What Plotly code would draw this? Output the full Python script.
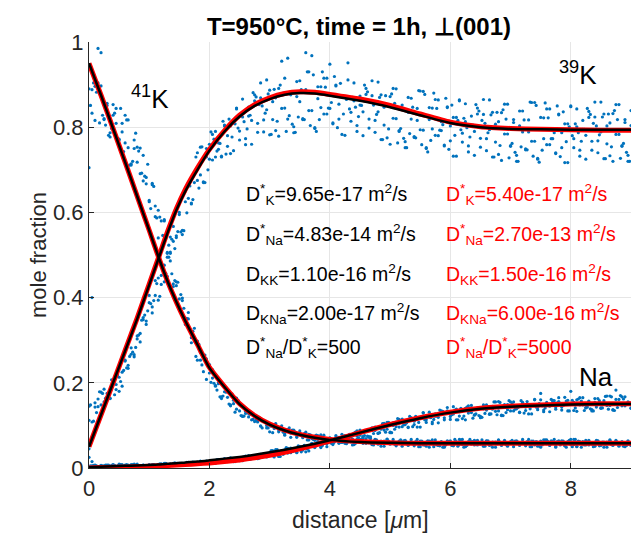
import plotly.graph_objects as go

# ---------------- measured profiles (mole fraction x 1000) ----------------
distance = [
    0.0, 0.05, 0.1, 0.15, 0.2, 0.25, 0.3, 0.35, 0.4, 0.45, 0.5, 0.55, 0.6, 0.65, 0.7, 0.75, 0.8, 0.85, 0.9, 0.95,
    1.0, 1.05, 1.1, 1.15, 1.2, 1.25, 1.3, 1.35, 1.4, 1.45, 1.5, 1.55, 1.6, 1.65, 1.7, 1.75, 1.8, 1.85, 1.9, 1.95,
    2.0, 2.05, 2.1, 2.15, 2.2, 2.25, 2.3, 2.35, 2.4, 2.45, 2.5, 2.55, 2.6, 2.65, 2.7, 2.75, 2.8, 2.85, 2.9, 2.95,
    3.0, 3.05, 3.1, 3.15, 3.2, 3.25, 3.3, 3.35, 3.4, 3.45, 3.5, 3.55, 3.6, 3.65, 3.7, 3.75, 3.8, 3.85, 3.9, 3.95,
    4.0, 4.05, 4.1, 4.15, 4.2, 4.25, 4.3, 4.35, 4.4, 4.45, 4.5, 4.55, 4.6, 4.65, 4.7, 4.75, 4.8, 4.85, 4.9, 4.95,
    5.0, 5.05, 5.1, 5.15, 5.2, 5.25, 5.3, 5.35, 5.4, 5.45, 5.5, 5.55, 5.6, 5.65, 5.7, 5.75, 5.8, 5.85, 5.9, 5.95,
    6.0, 6.05, 6.1, 6.15, 6.2, 6.25, 6.3, 6.35, 6.4, 6.45, 6.5, 6.55, 6.6, 6.65, 6.7, 6.75, 6.8, 6.85, 6.9, 6.95,
    7.0, 7.05, 7.1, 7.15, 7.2, 7.25, 7.3, 7.35, 7.4, 7.45, 7.5, 7.55, 7.6, 7.65, 7.7, 7.75, 7.8, 7.85, 7.9, 7.95,
    8.0, 8.05, 8.1, 8.15, 8.2, 8.25, 8.3, 8.35, 8.4, 8.45, 8.5, 8.55, 8.6, 8.65, 8.7, 8.75, 8.8, 8.85, 8.9, 8.95,
    9.0,
]
distance_mid = [
    0.025, 0.075, 0.125, 0.175, 0.225, 0.275, 0.325, 0.375, 0.425, 0.475, 0.525, 0.575, 0.625, 0.675, 0.725, 0.775, 0.825, 0.875, 0.925, 0.975,
    1.025, 1.075, 1.125, 1.175, 1.225, 1.275, 1.325, 1.375, 1.425, 1.475, 1.525, 1.575, 1.625, 1.675, 1.725, 1.775, 1.825, 1.875, 1.925, 1.975,
    2.025, 2.075, 2.125, 2.175, 2.225, 2.275, 2.325, 2.375, 2.425, 2.475, 2.525, 2.575, 2.625, 2.675, 2.725, 2.775, 2.825, 2.875, 2.925, 2.975,
    3.025, 3.075, 3.125, 3.175, 3.225, 3.275, 3.325, 3.375, 3.425, 3.475, 3.525, 3.575, 3.625, 3.675, 3.725, 3.775, 3.825, 3.875, 3.925, 3.975,
    4.025, 4.075, 4.125, 4.175, 4.225, 4.275, 4.325, 4.375, 4.425, 4.475, 4.525, 4.575, 4.625, 4.675, 4.725, 4.775, 4.825, 4.875, 4.925, 4.975,
    5.025, 5.075, 5.125, 5.175, 5.225, 5.275, 5.325, 5.375, 5.425, 5.475, 5.525, 5.575, 5.625, 5.675, 5.725, 5.775, 5.825, 5.875, 5.925, 5.975,
    6.025, 6.075, 6.125, 6.175, 6.225, 6.275, 6.325, 6.375, 6.425, 6.475, 6.525, 6.575, 6.625, 6.675, 6.725, 6.775, 6.825, 6.875, 6.925, 6.975,
    7.025, 7.075, 7.125, 7.175, 7.225, 7.275, 7.325, 7.375, 7.425, 7.475, 7.525, 7.575, 7.625, 7.675, 7.725, 7.775, 7.825, 7.875, 7.925, 7.975,
    8.025, 8.075, 8.125, 8.175, 8.225, 8.275, 8.325, 8.375, 8.425, 8.475, 8.525, 8.575, 8.625, 8.675, 8.725, 8.775, 8.825, 8.875, 8.925, 8.975,
]

k41_scan_a = [
    890, 833, 896, 985, 897, 820, 851, 777, 853, 809, 770, 809, 763, 817, 711, 750, 753, 691, 734, 667,
    625, 668, 615, 540, 580, 583, 495, 486, 426, 437, 397, 399, 337, 350, 306, 328, 253, 271, 226, 256,
    223, 231, 192, 198, 163, 189, 166, 146, 159, 138, 150, 121, 128, 128, 113, 124, 108, 98, 110, 100,
    85, 99, 104, 85, 91, 77, 90, 82, 89, 72, 82, 74, 84, 66, 75, 65, 76, 69, 77, 64,
    70, 58, 72, 66, 60, 69, 61, 73, 55, 64, 66, 58, 69, 59, 55, 66, 60, 51, 63, 68,
    56, 62, 52, 63, 58, 65, 53, 62, 55, 67, 50, 60, 51, 63, 57, 66, 54, 61, 49, 64,
    58, 53, 62, 55, 67, 50, 59, 62, 54, 65, 56, 52, 63, 58, 49, 61, 66, 53, 60, 51,
    62, 57, 64, 53, 62, 55, 67, 50, 54, 61, 49, 66, 57, 53, 62, 51, 60, 64, 52, 58,
    67, 55, 51, 62, 56, 65, 54, 59, 51, 64, 53, 61, 49, 65, 56, 65, 53, 59, 50, 62,
    55,
]
k41_scan_b = [
    705, 888, 816, 904, 975, 818, 856, 787, 828, 844, 772, 789, 828, 752, 714, 770, 718, 751, 674, 682,
    628, 665, 590, 605, 515, 580, 504, 504, 432, 428, 373, 393, 346, 365, 294, 298, 298, 253, 259, 208,
    243, 211, 194, 200, 167, 179, 180, 148, 151, 164, 134, 122, 133, 120, 128, 109, 111, 99, 111, 94,
    101, 83, 103, 89, 99, 80, 86, 72, 87, 75, 87, 71, 75, 79, 69, 75, 62, 78, 68, 63,
    71, 60, 68, 72, 61, 65, 73, 61, 56, 67, 60, 69, 58, 62, 56, 67, 56, 63, 51, 67,
    58, 67, 54, 60, 51, 63, 55, 67, 52, 58, 63, 54, 61, 49, 66, 57, 53, 62, 51, 60,
    64, 52, 58, 67, 55, 51, 62, 56, 65, 54, 59, 51, 64, 53, 61, 49, 65, 56, 65, 53,
    59, 50, 62, 55, 67, 52, 58, 63, 60, 51, 63, 57, 66, 54, 61, 49, 64, 58, 53, 62,
    55, 67, 50, 59, 62, 54, 65, 56, 52, 63, 58, 49, 61, 66, 53, 60, 51, 62, 57, 64,
    53,
]
k41_scan_c = [
    851, 904, 882, 810, 828, 805, 781, 797, 833, 774, 844, 743, 817, 711, 720, 786, 744, 692, 685, 713,
    609, 661, 587, 589, 546, 539, 495, 456, 440, 436, 407, 375, 351, 322, 321, 262, 290, 242, 265, 243,
    201, 199, 183, 167, 169, 178, 150, 174, 131, 159, 123, 122, 136, 126, 114, 112, 119, 94, 109, 94,
    98, 93, 96, 90, 84, 87, 94, 89, 84, 80, 76, 81, 66, 78, 67, 77, 74, 61, 64, 61,
    58, 61, 70, 60, 74, 57, 72, 54, 58, 71, 67, 60, 61, 69, 54, 66, 57, 62, 59, 63,
    59, 56, 60, 66, 64, 61, 60, 57, 62, 50, 63, 54, 64, 62, 50, 54, 52, 49, 54, 62,
    53, 67, 51, 66, 49, 53, 67, 62, 56, 58, 66, 51, 64, 55, 60, 57, 61, 58, 55, 59,
    65, 63, 61, 60, 57, 62, 50, 63, 62, 52, 54, 66, 62, 64, 67, 62, 54, 63, 49, 65,
    50, 67, 63, 49, 54, 60, 58, 50, 65, 52, 61, 56, 59, 55, 58, 61, 57, 51, 53, 55,
]

k39_scan_a = [
    145, 108, 143, 162, 148, 185, 167, 163, 203, 196, 180, 225, 253, 234, 267, 261, 310, 316, 353, 337,
    388, 378, 440, 394, 452, 437, 506, 507, 567, 541, 595, 548, 650, 633, 620, 690, 675, 753, 670, 730,
    760, 723, 790, 748, 730, 803, 780, 738, 810, 845, 770, 824, 759, 847, 816, 876, 788, 869, 817, 911,
    782, 860, 792, 891, 844, 915, 819, 876, 787, 907, 860, 818, 888, 839, 968, 797, 867, 895, 831, 915,
    844, 808, 897, 854, 783, 872, 951, 814, 862, 790, 873, 836, 891, 798, 874, 816, 906, 771, 847, 775,
    872, 821, 890, 790, 845, 752, 870, 819, 776, 844, 794, 884, 750, 818, 845, 781, 864, 792, 756, 846,
    803, 732, 823, 864, 765, 813, 742, 826, 790, 845, 753, 830, 773, 864, 730, 807, 736, 834, 784, 854,
    755, 811, 720, 838, 789, 747, 817, 767, 858, 725, 795, 822, 759, 843, 773, 738, 829, 787, 717, 808,
    850, 752, 801, 732, 816, 781, 837, 746, 824, 768, 859, 726, 803, 733, 832, 783, 853, 755, 811, 720,
    839,
]
k39_scan_b = [
    112, 400, 153, 144, 178, 155, 175, 164, 204, 184, 213, 192, 251, 241, 282, 266, 303, 296, 348, 345,
    405, 364, 405, 446, 431, 476, 450, 542, 532, 545, 600, 558, 625, 668, 622, 670, 740, 688, 672, 750,
    725, 783, 730, 763, 732, 805, 755, 803, 745, 843, 791, 866, 773, 826, 760, 862, 809, 904, 789, 841,
    887, 818, 869, 779, 955, 845, 962, 883, 801, 872, 909, 820, 975, 930, 839, 799, 895, 846, 915, 831,
    948, 810, 899, 819, 874, 781, 911, 835, 904, 804, 852, 780, 877, 819, 909, 788, 836, 876, 805, 852,
    760, 891, 820, 792, 852, 766, 835, 868, 778, 816, 885, 793, 752, 846, 796, 865, 780, 813, 758, 848,
    768, 823, 732, 862, 786, 855, 756, 805, 734, 831, 774, 865, 745, 794, 835, 765, 813, 722, 854, 784,
    757, 818, 734, 803, 838, 749, 789, 858, 767, 727, 823, 773, 843, 759, 794, 740, 831, 752, 808, 717,
    848, 773, 843, 746, 795, 725, 823, 767, 859, 740, 789, 831, 761, 810, 720, 853, 783, 757, 818, 734,
    804,
]
k39_scan_c = [
    148, 110, 130, 179, 175, 164, 176, 207, 172, 219, 203, 229, 235, 262, 272, 283, 312, 347, 359, 369,
    386, 393, 433, 403, 476, 457, 523, 537, 515, 555, 554, 557, 599, 662, 630, 730, 657, 754, 670, 700,
    789, 772, 744, 762, 814, 737, 819, 777, 808, 798, 829, 813, 796, 828, 881, 871, 853, 850, 833, 878,
    783, 889, 814, 899, 880, 790, 827, 807, 788, 824, 888, 818, 930, 804, 923, 790, 818, 930, 894, 845,
    858, 919, 799, 903, 831, 865, 843, 870, 847, 825, 851, 899, 883, 861, 852, 830, 870, 771, 874, 796,
    878, 856, 763, 797, 774, 752, 785, 847, 775, 886, 759, 877, 742, 769, 880, 844, 793, 806, 868, 748,
    852, 781, 816, 794, 821, 799, 777, 805, 853, 838, 816, 809, 787, 829, 730, 835, 757, 841, 819, 728,
    762, 741, 720, 754, 817, 747, 859, 732, 851, 718, 746, 857, 822, 773, 787, 850, 731, 836, 766, 801,
    780, 808, 787, 767, 795, 844, 830, 809, 803, 782, 824, 726, 831, 754, 839, 818, 727, 762, 741, 720,
]

na_scan_a = [
    45, 15, 6, 3, 6, 5, 7, 3, 7, 4, 9, 3, 7, 4, 8, 6, 9, 4, 7, 3,
    8, 6, 5, 8, 6, 11, 5, 8, 11, 8, 11, 9, 8, 13, 11, 9, 13, 16, 11, 15,
    10, 17, 15, 20, 14, 20, 17, 24, 15, 21, 17, 25, 23, 29, 23, 28, 22, 32, 29, 27,
    35, 29, 43, 27, 37, 43, 35, 47, 40, 37, 49, 46, 38, 52, 58, 48, 56, 48, 61, 57,
    68, 55, 70, 62, 79, 58, 73, 63, 82, 75, 89, 74, 86, 72, 94, 88, 82, 96, 89, 107,
    84, 100, 108, 96, 115, 102, 96, 117, 110, 96, 118, 129, 107, 120, 104, 127, 119, 134, 113, 134,
    121, 144, 113, 132, 116, 140, 129, 147, 124, 139, 118, 148, 136, 127, 145, 133, 156, 124, 142, 149,
    134, 155, 139, 130, 153, 143, 127, 149, 160, 137, 175, 132, 154, 145, 159, 138, 156, 143, 166, 134,
    152, 135, 160, 148, 165, 141, 155, 134, 163, 151, 141, 158, 147, 169, 137, 183, 161, 146, 167, 150,
    141,
]
na_scan_b = [
    25, 5, 7, 3, 5, 2, 6, 4, 8, 3, 6, 8, 5, 7, 3, 9, 6, 5, 7, 4,
    7, 8, 5, 7, 10, 7, 6, 10, 8, 11, 8, 10, 8, 12, 10, 13, 9, 15, 12, 16,
    11, 16, 11, 19, 16, 22, 15, 19, 22, 18, 23, 17, 28, 24, 22, 29, 23, 29, 33, 26,
    31, 41, 31, 28, 41, 36, 46, 36, 43, 36, 50, 42, 50, 40, 57, 50, 61, 50, 58, 50,
    66, 58, 76, 58, 67, 76, 66, 77, 63, 87, 77, 73, 87, 74, 88, 96, 81, 91, 105, 91,
    83, 106, 97, 114, 97, 107, 95, 118, 102, 116, 96, 130, 113, 131, 108, 122, 106, 131, 118, 142,
    114, 127, 138, 122, 135, 113, 146, 130, 125, 141, 121, 139, 148, 126, 138, 155, 134, 123, 149, 137,
    155, 134, 144, 131, 154, 135, 149, 127, 161, 142, 160, 136, 149, 132, 156, 143, 165, 136, 149, 159,
    180, 154, 133, 165, 148, 142, 157, 137, 154, 163, 140, 151, 169, 147, 136, 161, 149, 167, 146, 155,
    140,
]
na_scan_c = [
    5, 6, 5, 4, 5, 7, 7, 6, 6, 5, 8, 3, 8, 5, 8, 7, 3, 5, 4, 3,
    5, 8, 5, 10, 5, 11, 5, 7, 12, 11, 9, 10, 13, 9, 14, 11, 13, 13, 14, 14,
    13, 16, 20, 20, 19, 19, 18, 22, 15, 24, 19, 26, 26, 20, 24, 23, 23, 26, 32, 28,
    41, 26, 43, 27, 32, 48, 44, 39, 43, 52, 38, 53, 45, 52, 50, 56, 55, 53, 59, 66,
    68, 67, 67, 66, 74, 59, 79, 68, 84, 82, 68, 76, 75, 73, 81, 94, 83, 104, 84, 107,
    83, 91, 116, 110, 101, 106, 121, 97, 121, 107, 117, 113, 122, 118, 114, 122, 136, 133, 129, 129,
    125, 136, 113, 140, 122, 143, 139, 117, 127, 123, 119, 128, 144, 127, 155, 125, 154, 123, 130, 158,
    150, 138, 142, 158, 129, 156, 139, 148, 143, 151, 146, 141, 149, 161, 158, 153, 152, 147, 157, 134,
    159, 141, 162, 157, 135, 143, 139, 134, 143, 158, 141, 168, 138, 167, 135, 142, 170, 162, 150, 153,
]

# ---------------- model profiles ----------------
model_distance = [0, 0.2, 0.4, 0.6, 0.8, 1.0, 1.15, 1.3, 1.45, 1.6, 1.8, 2.0, 2.25, 2.5, 2.75,
                  3.0, 3.25, 3.5, 3.75, 4.0, 4.5, 5.0, 5.5, 6.0, 6.5, 7.0, 7.5, 8.0, 8.5, 9.0]

k41_model_black = [0.95, 0.875, 0.797, 0.718, 0.638, 0.558, 0.497, 0.44, 0.39, 0.345, 0.29, 0.235, 0.19, 0.15, 0.122,
                   0.102, 0.088, 0.078, 0.071, 0.066, 0.061, 0.059, 0.058, 0.058, 0.058, 0.058, 0.058, 0.058, 0.058, 0.058]
k39_model_black = [0.05, 0.125, 0.2, 0.275, 0.35, 0.43, 0.49, 0.55, 0.605, 0.65, 0.70, 0.745, 0.79, 0.825, 0.85,
                   0.866, 0.876, 0.88, 0.879, 0.874, 0.862, 0.847, 0.828, 0.81, 0.80, 0.796, 0.795, 0.794, 0.794, 0.794]
na_model_black = [0.002, 0.003, 0.004, 0.005, 0.006, 0.007, 0.008, 0.01, 0.011, 0.013, 0.015, 0.018, 0.022, 0.026, 0.031,
                  0.037, 0.043, 0.05, 0.057, 0.065, 0.083, 0.101, 0.117, 0.13, 0.139, 0.144, 0.147, 0.149, 0.15, 0.15]

k41_model_red = [0.95, 0.875, 0.797, 0.718, 0.638, 0.558, 0.497, 0.44, 0.39, 0.345, 0.29, 0.236, 0.191, 0.151, 0.123,
                 0.103, 0.089, 0.079, 0.072, 0.067, 0.062, 0.059, 0.058, 0.058, 0.058, 0.058, 0.058, 0.058, 0.058, 0.058]
k39_model_red = [0.05, 0.125, 0.2, 0.276, 0.352, 0.432, 0.492, 0.553, 0.608, 0.654, 0.704, 0.748, 0.792, 0.828, 0.853,
                 0.869, 0.879, 0.883, 0.882, 0.877, 0.866, 0.851, 0.831, 0.812, 0.801, 0.797, 0.795, 0.794, 0.793, 0.793]
na_model_red = [0.0, 0.001, 0.002, 0.002, 0.003, 0.004, 0.005, 0.006, 0.007, 0.008, 0.01, 0.012, 0.015, 0.019, 0.024,
                0.03, 0.037, 0.045, 0.054, 0.063, 0.083, 0.102, 0.118, 0.131, 0.14, 0.145, 0.148, 0.15, 0.151, 0.151]

# ---------------- annotation texts ----------------
fit_black = ["D<sup>*</sup><sub>K</sub>=9.65e-17 m<sup>2</sup>/s",
             "D<sup>*</sup><sub>Na</sub>=4.83e-14 m<sup>2</sup>/s",
             "D<sub>KK</sub>=1.10e-16 m<sup>2</sup>/s",
             "D<sub>KNa</sub>=2.00e-17 m<sup>2</sup>/s",
             "D<sup>*</sup><sub>Na</sub>/D<sup>*</sup><sub>K</sub>=500"]
fit_red = ["D<sup>*</sup><sub>K</sub>=5.40e-17 m<sup>2</sup>/s",
           "D<sup>*</sup><sub>Na</sub>=2.70e-13 m<sup>2</sup>/s",
           "D<sub>KK</sub>=1.50e-16 m<sup>2</sup>/s",
           "D<sub>KNa</sub>=6.00e-16 m<sup>2</sup>/s",
           "D<sup>*</sup><sub>Na</sub>/D<sup>*</sup><sub>K</sub>=5000"]
row_y = [0.643, 0.549, 0.455, 0.362, 0.283]

FONT = "Liberation Sans, Arial, Helvetica, sans-serif"
BLUE = "#0072BD"

fig = go.Figure()

scans = [(distance, k41_scan_a), (distance, k41_scan_b), (distance_mid, k41_scan_c),
         (distance, k39_scan_a), (distance, k39_scan_b), (distance_mid, k39_scan_c),
         (distance, na_scan_a), (distance, na_scan_b), (distance_mid, na_scan_c)]
for xs, ys in scans:
    n = min(len(xs), len(ys))
    fig.add_trace(go.Scatter(
        x=xs[:n], y=[v / 1000 for v in ys[:n]], mode="markers",
        marker=dict(size=3.2, color=BLUE, line=dict(width=0)),
        showlegend=False, hoverinfo="skip"))

for ys in (k41_model_red, k39_model_red, na_model_red):
    fig.add_trace(go.Scatter(x=model_distance, y=ys, mode="lines",
                             line=dict(color="#FF0000", width=5, shape="spline", smoothing=0.6),
                             showlegend=False, hoverinfo="skip"))
for ys in (k41_model_black, k39_model_black, na_model_black):
    fig.add_trace(go.Scatter(x=model_distance, y=ys, mode="lines",
                             line=dict(color="#000000", width=2.5, shape="spline", smoothing=0.6),
                             showlegend=False, hoverinfo="skip"))

annotations = []
for t, y in zip(fit_black, row_y):
    annotations.append(dict(x=2.57, y=y, xref="x", yref="y", text=t, showarrow=False,
                            xanchor="left", yanchor="middle",
                            font=dict(family=FONT, size=19.5, color="#000000")))
for t, y in zip(fit_red, row_y):
    annotations.append(dict(x=5.89, y=y, xref="x", yref="y", text=t, showarrow=False,
                            xanchor="left", yanchor="middle",
                            font=dict(family=FONT, size=19.5, color="#FF0000")))

species = [("<sup>41</sup>K", 0.66, 0.87), ("<sup>39</sup>K", 7.77, 0.925), ("Na", 8.1, 0.214)]
for t, x, y in species:
    annotations.append(dict(x=x, y=y, xref="x", yref="y", text=t, showarrow=False,
                            xanchor="left", yanchor="middle",
                            font=dict(family=FONT, size=26, color="#000000")))

annotations.append(dict(x=0.5, y=-0.122, xref="paper", yref="paper", text="distance [<i>μ</i>m]",
                        showarrow=False, xanchor="center", yanchor="middle",
                        font=dict(family=FONT, size=23, color="#262626")))
annotations.append(dict(x=-0.094, y=0.5, xref="paper", yref="paper", text="mole fraction",
                        showarrow=False, xanchor="center", yanchor="middle", textangle=-90,
                        font=dict(family=FONT, size=22, color="#262626")))

fig.update_layout(
    width=641, height=533,
    margin=dict(l=89, r=10, t=42, b=65),
    paper_bgcolor="white", plot_bgcolor="white",
    title=dict(text="<b>T=950°C, time = 1h, ⊥(001)</b>", x=0.56, xanchor="center",
               y=1 - 27 / 533, yanchor="middle",
               font=dict(family=FONT, size=24, color="#000000")),
    annotations=annotations,
    showlegend=False,
)
axis_common = dict(showgrid=True, gridcolor="#e6e6e6", gridwidth=1, zeroline=False,
                   showline=True, linecolor="#262626", linewidth=1.2,
                   ticks="inside", ticklen=5, tickcolor="#262626",
                   tickfont=dict(family=FONT, size=22, color="#262626"))
fig.update_xaxes(range=[0, 9], tickvals=[0, 2, 4, 6, 8], **axis_common)
fig.update_yaxes(range=[0, 1], tickvals=[0, 0.2, 0.4, 0.6, 0.8, 1],
                 ticktext=["0", "0.2", "0.4", "0.6", "0.8", "1"], **axis_common)

fig.write_html("out.html", config={"displayModeBar": False},
               post_script="document.body.style.margin='0';document.body.style.overflow='hidden';")
